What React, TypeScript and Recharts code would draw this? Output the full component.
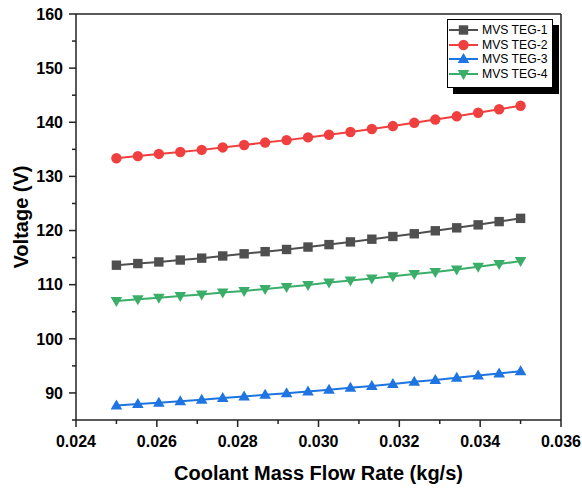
import React from "react";
import {
  LineChart,
  Line,
  XAxis,
  YAxis,
  Legend,
  ReferenceLine,
} from "recharts";

const flowRate = [
  0.025, 0.02553, 0.02605, 0.02658, 0.02711, 0.02763, 0.02816, 0.02868, 0.02921, 0.02974,
  0.03026, 0.03079, 0.03132, 0.03184, 0.03237, 0.03289, 0.03342, 0.03395, 0.03447, 0.035,
];

const teg1 = [
  113.6, 113.9, 114.2, 114.55, 114.9, 115.3, 115.7, 116.1, 116.5, 116.95,
  117.4, 117.9, 118.4, 118.9, 119.4, 119.95, 120.5, 121.05, 121.65, 122.25,
];
const teg2 = [
  133.35, 133.75, 134.15, 134.5, 134.9, 135.35, 135.8, 136.25, 136.7, 137.2,
  137.7, 138.2, 138.75, 139.3, 139.9, 140.5, 141.1, 141.75, 142.4, 143.05,
];
const teg3 = [
  87.7, 87.95, 88.2, 88.45, 88.75, 89.05, 89.35, 89.65, 89.95, 90.25,
  90.6, 90.95, 91.3, 91.65, 92.05, 92.4, 92.8, 93.2, 93.6, 94.0,
];
const teg4 = [
  107.0, 107.3, 107.6, 107.9, 108.2, 108.55, 108.85, 109.2, 109.55, 109.95,
  110.4, 110.75, 111.15, 111.55, 111.95, 112.35, 112.8, 113.3, 113.8, 114.35,
];

const xTicks = [0.024, 0.025, 0.026, 0.027, 0.028, 0.029, 0.03, 0.031, 0.032, 0.033, 0.034, 0.035, 0.036];
const yTicks = [85, 90, 95, 100, 105, 110, 115, 120, 125, 130, 135, 140, 145, 150, 155, 160];

const series = [
  { key: "teg1", name: "MVS TEG-1", color: "#4F4F4F", shape: "square" },
  { key: "teg2", name: "MVS TEG-2", color: "#F03F3F", shape: "circle" },
  { key: "teg3", name: "MVS TEG-3", color: "#1E74E0", shape: "up" },
  { key: "teg4", name: "MVS TEG-4", color: "#3AAE68", shape: "down" },
];

const data = flowRate.map((x, i) => ({
  x,
  teg1: teg1[i],
  teg2: teg2[i],
  teg3: teg3[i],
  teg4: teg4[i],
}));

const FONT = "'Liberation Sans', Arial, sans-serif";
const AXIS = "#222";

function Marker({ shape, cx, cy, color }: { shape: string; cx: number; cy: number; color: string }) {
  if (shape === "square") {
    return <rect x={cx - 4.7} y={cy - 4.7} width={9.4} height={9.4} fill={color} />;
  }
  if (shape === "circle") {
    return <circle cx={cx} cy={cy} r={5.2} fill={color} />;
  }
  if (shape === "up") {
    return (
      <polygon
        points={`${cx},${cy - 6} ${cx - 5.8},${cy + 4} ${cx + 5.8},${cy + 4}`}
        fill={color}
      />
    );
  }
  return (
    <polygon
      points={`${cx},${cy + 6} ${cx - 5.8},${cy - 4} ${cx + 5.8},${cy - 4}`}
      fill={color}
    />
  );
}

function XTick(props: any) {
  const { x, y, payload } = props;
  const v = payload.value;
  const major = Math.round(v * 1000) % 2 === 0;
  return (
    <g>
      <line x1={x} x2={x} y1={y} y2={y + (major ? 7 : 4)} stroke={AXIS} strokeWidth={1.5} />
      {major && (
        <text
          x={x}
          y={y + 27}
          textAnchor="middle"
          fontFamily={FONT}
          fontWeight="bold"
          fontSize={16}
          fill="#000"
        >
          {v.toFixed(3)}
        </text>
      )}
    </g>
  );
}

function YTick(props: any) {
  const { x, y, payload } = props;
  const v = payload.value;
  const major = v % 10 === 0;
  return (
    <g>
      <line x1={x} x2={x - (major ? 7 : 4)} y1={y} y2={y} stroke={AXIS} strokeWidth={1.5} />
      {major && (
        <text
          x={x - 13}
          y={y + 5.8}
          textAnchor="end"
          fontFamily={FONT}
          fontWeight="bold"
          fontSize={16}
          fill="#000"
        >
          {v}
        </text>
      )}
    </g>
  );
}

function LegendBox(props: any) {
  const items = props.payload || [];
  return (
    <div
      style={{
        width: 106,
        height: 69,
        boxSizing: "border-box",
        border: "1px solid #000",
        background: "#fff",
        boxShadow: "6px 6px 0 #000",
        paddingTop: 3,
        fontFamily: FONT,
        fontSize: 12.2,
        whiteSpace: "nowrap",
      }}
    >
      {items.map((it: any) => {
        const s = series.find((d) => d.name === it.value)!;
        return (
          <div key={it.value} style={{ display: "flex", alignItems: "center", height: 14.5 }}>
            <svg width={31} height={14} style={{ marginLeft: 0, flexShrink: 0 }}>
              <line x1={1} x2={30} y1={7} y2={7} stroke={s.color} strokeWidth={2} />
              <Marker shape={s.shape} cx={15.5} cy={7} color={s.color} />
            </svg>
            <span style={{ marginLeft: 3, color: "#000", lineHeight: "14px" }}>{it.value}</span>
          </div>
        );
      })}
    </div>
  );
}

export default function App() {
  return (
    <div style={{ position: "absolute", left: 0, top: 0, width: 582, height: 488, background: "#fff" }}>
      <LineChart
        width={582}
        height={488}
        data={data}
        margin={{ top: 14, right: 21, left: 0, bottom: 0 }}
      >
        <XAxis
          dataKey="x"
          type="number"
          domain={[0.024, 0.036]}
          ticks={xTicks}
          interval={0}
          height={68}
          tickSize={0}
          tickMargin={0}
          tickLine={false}
          axisLine={{ stroke: AXIS, strokeWidth: 1.5 }}
          tick={<XTick />}
          label={{
            value: "Coolant Mass Flow Rate (kg/s)",
            position: "insideBottom",
            offset: 8,
            style: { fontFamily: FONT, fontWeight: "bold", fontSize: 20, fill: "#000" },
          }}
        />
        <YAxis
          type="number"
          domain={[85, 160]}
          ticks={yTicks}
          interval={0}
          width={76}
          tickSize={0}
          tickMargin={0}
          tickLine={false}
          axisLine={{ stroke: AXIS, strokeWidth: 1.5 }}
          tick={<YTick />}
          label={{
            value: "Voltage (V)",
            angle: -90,
            position: "insideLeft",
            offset: 21,
            style: { fontFamily: FONT, fontWeight: "bold", fontSize: 20, fill: "#000", textAnchor: "middle" },
          }}
        />
        <ReferenceLine y={160} stroke={AXIS} strokeWidth={1.5} />
        <ReferenceLine x={0.036} stroke={AXIS} strokeWidth={1.5} />
        {series.map((s) => (
          <Line
            key={s.key}
            dataKey={s.key}
            name={s.name}
            type="linear"
            stroke={s.color}
            strokeWidth={2}
            isAnimationActive={false}
            activeDot={false}
            dot={(p: any) => (
              <Marker key={`${s.key}-${p.index}`} shape={s.shape} cx={p.cx} cy={p.cy} color={s.color} />
            )}
          />
        ))}
        <Legend
          layout="vertical"
          align="center"
          verticalAlign="middle"
          content={<LegendBox />}
          wrapperStyle={{ left: 447, top: 19, width: 112, height: 75, bottom: "auto", right: "auto" }}
        />
      </LineChart>
    </div>
  );
}
